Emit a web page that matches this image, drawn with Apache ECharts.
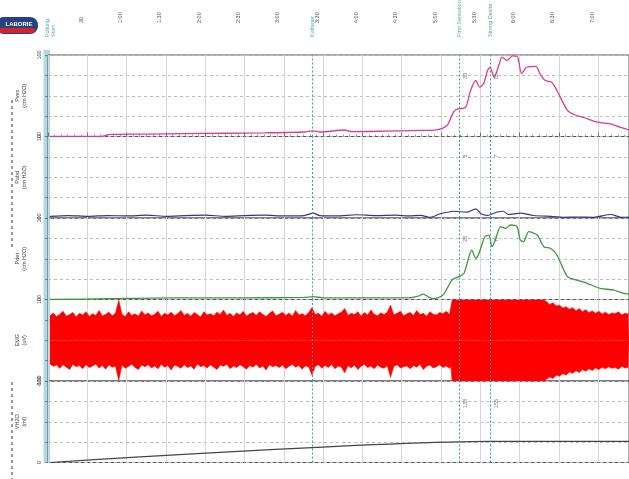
<!DOCTYPE html>
<html><head><meta charset="utf-8">
<script src="https://cdn.jsdelivr.net/npm/echarts@6/dist/echarts.min.js"></script>
<style>html,body{margin:0;padding:0;background:#fff}#c{width:629px;height:479px}</style>
</head><body><div id="c"></div>
<script>
// ---------- DATA (time in seconds) ----------
const eventTimes = [202, 314, 337.5];
const eventNames = ['Katheter', 'First Sensation', 'Strong Desire'];
const startEventTime = 2;
const startEventName = 'Füllung\nStart';

const pvesTime = [1.5,40.5,47.5,75.5,105.5,135.5,165.5,195.5,202.5,207.5,226.5,231.5,255.5,284.5,296.5,304.5,309.5,312.5,317.5,319.5,322.5,326.5,329.5,332.5,335.5,337.5,340.5,344.5,346.5,350.5,354.5,358.5,361.5,365.5,372.5,375.5,379.5,384.5,388.5,396.5,401.5,409.5,419.5,429.5,436.5,443.5];
const pvesVal  = [0,0,2.5,3,3.5,4,4.5,5.5,7,5.5,8,6,6.5,7.4,8.2,13.5,29.8,34,34.7,38,56,68.7,60.5,64.7,81,85,72.7,89,97.3,93.3,99,97.3,77.2,85,86,77,68.7,66.6,56.4,32,27,23,17.5,15.6,11.4,8.2];

const pabdTime = [1.5,15.5,30.5,45.5,60.5,75.5,90.5,105.5,120.5,135.5,150.5,165.5,180.5,195.5,202.5,207.5,220.5,235.5,250.5,265.5,275.5,284.5,291.5,299.5,309.5,319.5,326.5,330.5,335.5,342.5,347.5,351.5,360.5,370.5,385.5,393.5,404.5,416.5,429.5,437.5,443.5];
const pabdVal  = [2,3,2,3,2.5,3.5,2,3,3.5,2,3,3.5,2.5,3,6,3,2.5,4,3,3.5,2.5,3.1,0.8,5.2,8.3,7.1,11.3,5.2,3.1,7.1,8.3,4.3,5.9,3.1,1.8,0.8,1.2,0.8,4.3,0.8,1.2];

const pdetTime = [1.5,47.5,95.5,145.5,195.5,202.5,210.5,255.5,275.5,282.5,286.5,290.5,294.5,301.5,308.5,313.5,317.5,323.5,326.5,328.5,333.5,336.5,339,341.5,345.5,349.5,353,358,360.5,363,367,373.5,378.5,383.5,388.5,396.5,403.5,411.5,421.5,431.5,439.5,443.5];
const pdetVal  = [0,1,2,2,2.5,3.5,2,2,2,4,6.7,3,1,5.5,24,28,32,60.7,50.6,54.6,77,79.1,64.8,73,89.3,87.4,91.4,89.3,73,70.9,83.2,79.1,64.8,62.8,54.6,28,23.9,19.9,13.7,11.7,7.6,6.7];

// EMG envelope (upper / lower edge of the signal band)
const emgTime = [
  1.5,4,6.5,9,11.5,14,16.5,19,21.5,24,
  26.5,29,31.5,34,36.5,39,41.5,44,46.5,49,
  51.5,54,56.5,59,61.5,64,66.5,69,71.5,74,
  76.5,79,81.5,84,86.5,89,91.5,94,96.5,99,
  101.5,104,106.5,109,111.5,114,116.5,119,121.5,124,
  126.5,129,131.5,134,136.5,139,141.5,144,146.5,149,
  151.5,154,156.5,159,161.5,164,166.5,169,171.5,174,
  176.5,179,181.5,184,186.5,189,191.5,194,196.5,199,
  201.5,204,206.5,209,211.5,214,216.5,219,221.5,224,
  226.5,229,231.5,234,236.5,239,241.5,244,246.5,249,
  251.5,254,256.5,259,261.5,264,266.5,269,271.5,274,
  276.5,279,281.5,284,286.5,289,291.5,294,296.5,299,
  301.5,304,306.5,
  307.5,308.5,343.5,378.5,
  380.5,383,385.5,388,390.5,393,395.5,398,400.5,403,
  405.5,408,410.5,413,415.5,418,420.5,423,425.5,428,
  430.5,433,435.5,438,440.5,443,443.5];
const emgHigh = [
  60,67,58,64,71,59,63,68,57,66,
  62,70,58,65,61,73,59,64,69,60,
  66,98,63,58,70,61,65,59,72,62,
  67,60,64,71,58,66,62,69,60,65,
  73,61,66,59,68,63,57,70,62,65,
  60,69,63,74,61,66,58,67,62,71,
  59,65,68,61,70,63,58,66,72,60,
  64,69,61,67,59,73,62,65,60,68,
  80,63,66,59,71,62,67,60,65,69,
  78,61,66,63,70,59,68,62,74,64,
  60,67,63,69,86,62,66,71,60,65,
  68,61,73,63,66,59,70,64,62,68,
  65,71,63,
  64,99,99,99,
  95,88,92,84,86,79,82,76,80,72,
  78,70,75,68,72,66,71,64,69,63,
  67,65,70,62,66,64,65];
const emgLow = [
  -58,-64,-61,-69,-60,-66,-72,-59,-65,-62,
  -70,-60,-67,-63,-58,-68,-62,-71,-60,-66,
  -63,-98,-61,-69,-64,-59,-67,-72,-61,-65,
  -60,-68,-63,-70,-59,-66,-62,-73,-61,-64,
  -69,-60,-67,-63,-71,-58,-65,-62,-68,-60,
  -66,-72,-61,-64,-59,-70,-63,-67,-60,-65,
  -71,-62,-66,-59,-68,-63,-73,-60,-65,-62,
  -67,-61,-70,-64,-59,-66,-62,-71,-63,-65,
  -86,-64,-60,-69,-62,-67,-59,-70,-63,-66,
  -80,-62,-68,-61,-72,-64,-59,-67,-63,-70,
  -61,-66,-69,-62,-91,-64,-60,-68,-65,-63,
  -70,-62,-66,-59,-72,-64,-61,-68,-65,-60,
  -67,-63,-69,
  -64,-100,-100,-100,
  -96,-90,-94,-86,-88,-82,-85,-78,-81,-75,
  -79,-72,-76,-70,-74,-68,-72,-66,-70,-65,
  -69,-67,-71,-64,-68,-66,-67];

const vinfTime = [1.5, 337.5, 443.5];
const vinfVal  = [0, 155, 155];

const pvesNotes = ['', '33', '85'];
const pabdNotes = ['', '5', '7'];
const pdetNotes = ['', '28', '74'];
const vinfNotes = ['', '133', '155'];

const panelNames = ['Pves\n(cm H2O)', 'Pabd\n(cm H2O)', 'Pdet\n(cm H2O)', 'EMG\n(uV)', 'VH2O\n(ml)'];
const panelMin = [0, 0, 0, -100, 0];
const panelMax = [100, 100, 100, 100, 600];

// ---------- CHART ----------
const zip = (t, v) => t.map((x, i) => [x, v[i]]);
const X_MAX = 443.5;
const panelTop = [55, 136.5, 218, 299.5, 381];
const panelH = 81.5;
const fmtTime = v => {
  if (v === 0 || v % 30 !== 0) return '';
  const m = Math.floor(v / 60), s = v % 60;
  return m === 0 ? String(s) : m + ':' + (s < 10 ? '0' : '') + s;
};
const FONT = 'Liberation Sans';

const grids = panelTop.map(t => ({left: 48, right: 0, top: t, height: panelH, show: true,
  borderColor: '#555', borderWidth: 1, backgroundColor: 'rgba(0,0,0,0)', outerBoundsMode: 'none', containLabel: false}));
grids.push({left: 48, right: 0, top: 0, height: 37, show: false, outerBoundsMode: 'none', containLabel: false});
// time-label strip (labels sit slightly left of their grid line, as in the print)
grids.push({left: 42, right: 6, top: 24, height: 1, show: false, outerBoundsMode: 'none', containLabel: false});

const xAxes = panelTop.map((t, i) => ({
  type: 'value', gridIndex: i, min: 0, max: X_MAX, interval: 30,
  position: i === 0 ? 'top' : 'bottom',
  axisLine: {show: false},
  axisTick: {show: i === 0, length: 4, inside: false, lineStyle: {color: '#555', width: 0.8}},
  minorTick: {show: i === 0, splitNumber: 6, length: 2, lineStyle: {color: '#666', width: 0.6}},
  axisLabel: {show: false},
  splitLine: {show: true, lineStyle: {color: '#d6d6d6', width: 1}}
}));
xAxes.push({type: 'value', gridIndex: 5, min: 0, max: X_MAX, show: false});
xAxes.push({type: 'value', gridIndex: 6, min: 0, max: X_MAX, interval: 30, position: 'top',
  axisLine: {show: false}, axisTick: {show: false}, splitLine: {show: false},
  axisLabel: {show: true, rotate: 90, margin: 1, fontSize: 5.5, color: '#555', fontFamily: FONT, formatter: fmtTime}});

const yAxes = panelTop.map((t, i) => ({
  type: 'value', gridIndex: i, min: panelMin[i], max: panelMax[i],
  interval: (panelMax[i] - panelMin[i]) / 4,
  name: panelNames[i], nameLocation: 'middle', nameRotate: 90, nameGap: 17,
  nameTextStyle: {fontSize: 5.5, color: '#444', fontFamily: FONT, lineHeight: 7},
  axisLine: {show: false},
  axisTick: {show: true, length: 3, lineStyle: {color: '#666', width: 0.8}},
  axisLabel: {show: true, rotate: 90, margin: 6, fontSize: 5.5, color: '#444', fontFamily: FONT,
    formatter: v => (v === panelMin[i] || v === panelMax[i]) ? String(v) : ''},
  splitLine: {show: true, lineStyle: {color: '#bdbdbd', width: 1, type: [3, 3]}}
}));
yAxes.push({type: 'value', gridIndex: 5, min: 0, max: 1, show: false});
yAxes.push({type: 'value', gridIndex: 6, min: 0, max: 1, show: false});

const evLines = notes => ({
  silent: true, symbol: 'none', animation: false,
  lineStyle: {color: '#3f9c9c', type: [2, 2], width: 1},
  label: {show: true, position: 'insideEndBottom', fontSize: 5.5, color: '#777', fontFamily: FONT, distance: [18, 3]},
  data: eventTimes.map((t, i) => ({xAxis: t, label: {formatter: notes[i] || ''}}))
});

const lineSeries = (idx, data, color, width, notes) => ({
  type: 'line', xAxisIndex: idx, yAxisIndex: idx, data: data, symbol: 'none',
  smooth: 0.25, animation: false, clip: true,
  lineStyle: {color: color, width: width},
  markLine: evLines(notes)
});

const headerData = [[startEventTime, 0]].concat(eventTimes.map(t => [t, 0]));
const headerNames = [startEventName].concat(eventNames);

const option = {
  backgroundColor: '#fff',
  animation: false,
  grid: grids, xAxis: xAxes, yAxis: yAxes,
  series: [
    lineSeries(0, zip(pvesTime, pvesVal), '#e6388c', 1.3, pvesNotes),
    lineSeries(1, zip(pabdTime, pabdVal), '#35358c', 1.2, pabdNotes),
    lineSeries(2, zip(pdetTime, pdetVal), '#3a9a3a', 1.3, pdetNotes),
    {type: 'line', xAxisIndex: 3, yAxisIndex: 3, data: zip(emgTime, emgHigh), symbol: 'none', animation: false,
      lineStyle: {color: '#ff0000', width: 0.6}, areaStyle: {color: '#ff0000', opacity: 1}, markLine: evLines([])},
    {type: 'line', xAxisIndex: 3, yAxisIndex: 3, data: zip(emgTime, emgLow), symbol: 'none', animation: false,
      lineStyle: {color: '#ff0000', width: 0.6}, areaStyle: {color: '#ff0000', opacity: 1}},
    lineSeries(4, zip(vinfTime, vinfVal), '#444', 1.2, vinfNotes),
    {type: 'scatter', xAxisIndex: 5, yAxisIndex: 5, data: headerData, symbolSize: 0.1, animation: false, clip: false,
      label: {show: true, position: 'top', distance: 0, rotate: 90, align: 'left', verticalAlign: 'middle',
        fontSize: 5.5, lineHeight: 6, color: '#2f8f8f', fontFamily: FONT,
        formatter: p => headerNames[p.dataIndex]}}
  ],
  graphic: [
    {type: 'rect', z: -1, shape: {x: 43.5, y: 50, width: 6.5, height: 412.5}, style: {fill: 'rgba(120,195,205,0.6)'}},
    {type: 'group', x: -4, y: 17, children: [
      {type: 'rect', shape: {x: 0, y: 0, width: 42, height: 17, r: 8}, style: {fill: '#24427e'}},
      {type: 'rect', shape: {x: 3, y: 11, width: 36, height: 5, r: 3}, style: {fill: '#d6232a'}},
      {type: 'text', style: {x: 23, y: 7, text: 'LABORIE', fill: '#fff', font: 'bold 6px Liberation Sans', textAlign: 'center', textVerticalAlign: 'middle'}}
    ]},
    {type: 'line', shape: {x1: 12, y1: 100, x2: 12, y2: 248}, style: {stroke: '#333', lineWidth: 1, lineDash: [3, 3]}},
    {type: 'line', shape: {x1: 12, y1: 382, x2: 12, y2: 479}, style: {stroke: '#333', lineWidth: 1, lineDash: [3, 3]}}
  ]
};
const chart = echarts.init(document.getElementById('c'), null, {renderer: 'canvas'});
chart.setOption(option);
</script>
</body></html>
